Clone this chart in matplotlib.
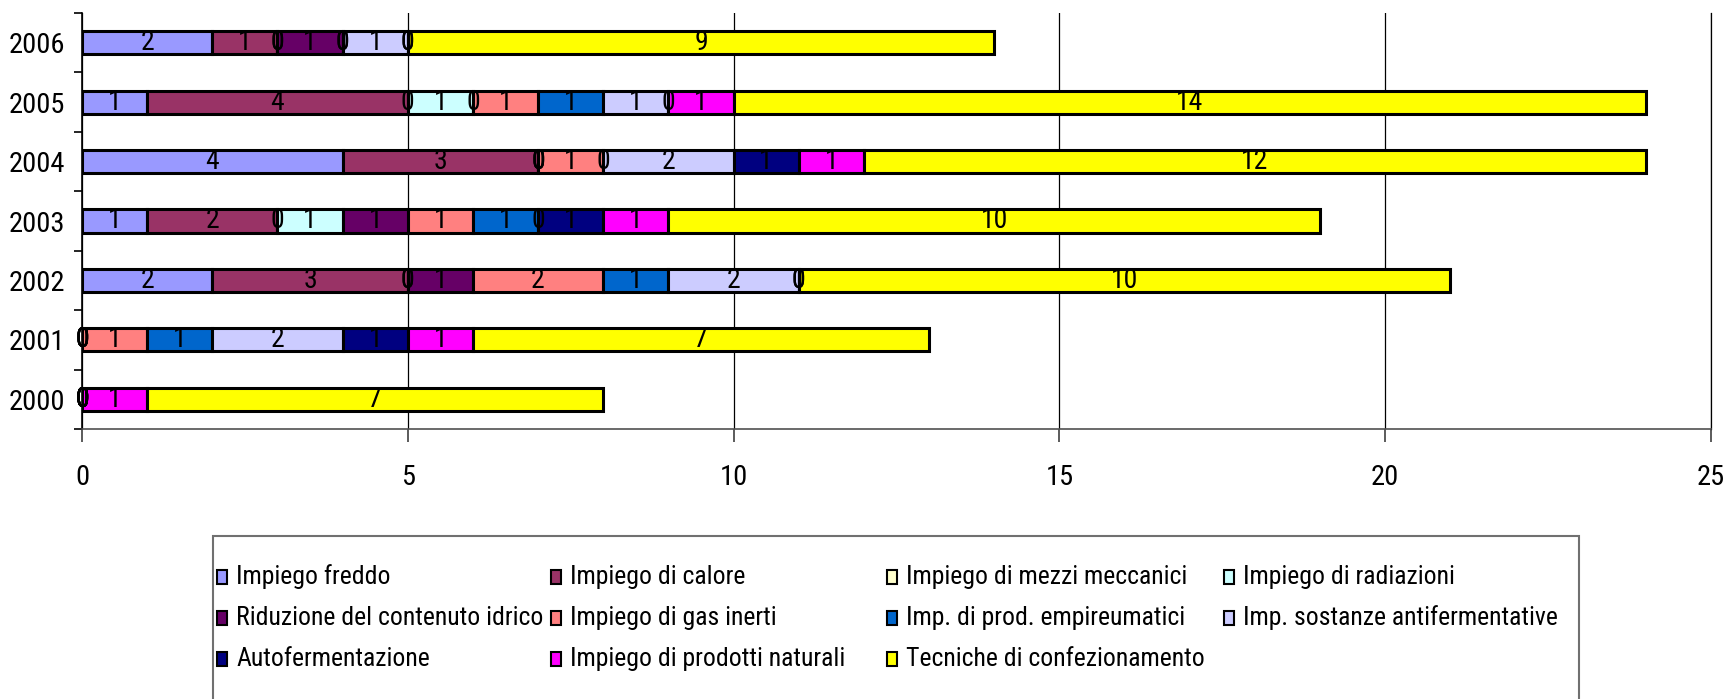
import matplotlib
matplotlib.use('Agg')
import matplotlib.pyplot as plt
from matplotlib.patches import Rectangle
import numpy as np

plt.rcParams['font.family'] = ['Liberation Sans Narrow', 'Roboto Condensed',
                               'Liberation Sans', 'DejaVu Sans']

years = ['2000', '2001', '2002', '2003', '2004', '2005', '2006']

series_names = ['Impiego freddo', 'Impiego di calore', 'Impiego di mezzi meccanici',
                'Impiego di radiazioni', 'Riduzione del contenuto idrico',
                'Impiego di gas inerti', 'Imp. di prod. empireumatici',
                'Imp. sostanze antifermentative', 'Autofermentazione',
                'Impiego di prodotti naturali', 'Tecniche di confezionamento']

series_colors = ['#9999FF', '#993366', '#FFFFCC', '#CCFFFF', '#660066', '#FF8080',
                 '#0066CC', '#CCCCFF', '#000080', '#FF00FF', '#FFFF00']

# values per year, 2000 .. 2006
freddo = [0, 0, 2, 1, 4, 1, 2]
calore = [0, 0, 3, 2, 3, 4, 1]
mezzi = [0, 0, 0, 0, 0, 0, 0]
radiazioni = [0, 0, 0, 1, 0, 1, 0]
riduzione = [0, 0, 1, 1, 0, 0, 1]
gas_inerti = [0, 1, 2, 1, 1, 1, 0]
empireumatici = [0, 1, 1, 1, 0, 1, 0]
antifermentative = [0, 2, 2, 0, 2, 1, 1]
autofermentazione = [0, 1, 0, 1, 1, 0, 0]
prodotti_naturali = [1, 1, 0, 1, 1, 1, 0]
confezionamento = [7, 7, 10, 10, 12, 14, 9]

series_values = [freddo, calore, mezzi, radiazioni, riduzione, gas_inerti,
                 empireumatici, antifermentative, autofermentazione,
                 prodotti_naturali, confezionamento]

W, H = 1731, 699
fig = plt.figure(figsize=(W / 100, H / 100), dpi=100)
ax = fig.add_axes([82 / W, (H - 429) / H, (1711 - 82) / W, (429 - 13) / H])

y = np.arange(len(years))
left = np.zeros(len(years))
for name, vals, col in zip(series_names, series_values, series_colors):
    vals = np.array(vals, dtype=float)
    bars = ax.barh(y, vals, left=left, height=0.39, color=col,
                   edgecolor='black', linewidth=2.2, label=name, zorder=3)
    ax.bar_label(bars, labels=['%d' % v for v in vals], label_type='center',
                 fontsize=20, color='black', zorder=4)
    left += vals

ax.set_xlim(0, 25)
ax.set_ylim(-0.5, len(years) - 0.5)
ax.set_xticks(np.arange(0, 26, 5))
ax.grid(axis='x', color='black', linewidth=0.9, zorder=1)
ax.set_yticks(y)
ax.set_yticklabels(years)
ax.set_yticks(np.arange(-0.5, len(years), 1), minor=True)
ax.tick_params(axis='y', which='major', length=0, pad=12, labelsize=20.5)
ax.tick_params(axis='y', which='minor', length=6, width=1.2, direction='out')
ax.tick_params(axis='x', length=9, width=1.2, direction='out', pad=16,
               labelsize=20.5, color='#404040')
ax.spines['top'].set_visible(False)
ax.spines['right'].set_color('black')
ax.spines['right'].set_linewidth(0.9)
ax.spines['left'].set_color('black')
ax.spines['left'].set_linewidth(1.2)
ax.spines['bottom'].set_color('#505050')
ax.spines['bottom'].set_linewidth(1.2)

# legend box laid out in rows of four, like the spreadsheet legend
def fx(px):
    return px / W

def fy(py):
    return 1 - py / H

fig.patches.append(Rectangle((fx(213), fy(702)), fx(1579) - fx(213), fy(536) - fy(702),
                             transform=fig.transFigure, facecolor='white',
                             edgecolor='#707070', linewidth=1.5, zorder=1))
col_x = [222, 556, 892, 1229]
row_y = [577, 618, 659]
for i, (name, col) in enumerate(zip(series_names, series_colors)):
    cx = col_x[i % 4]
    cy = row_y[i // 4]
    fig.patches.append(Rectangle((fx(cx - 5), fy(cy + 7)), fx(10), fy(0) - fy(14),
                                 transform=fig.transFigure, facecolor=col,
                                 edgecolor='black', linewidth=1.5, zorder=2))
    fig.text(fx(cx + 14), fy(cy), name, fontsize=18.5, va='center', ha='left')

fig.savefig('out.png', dpi=100)
